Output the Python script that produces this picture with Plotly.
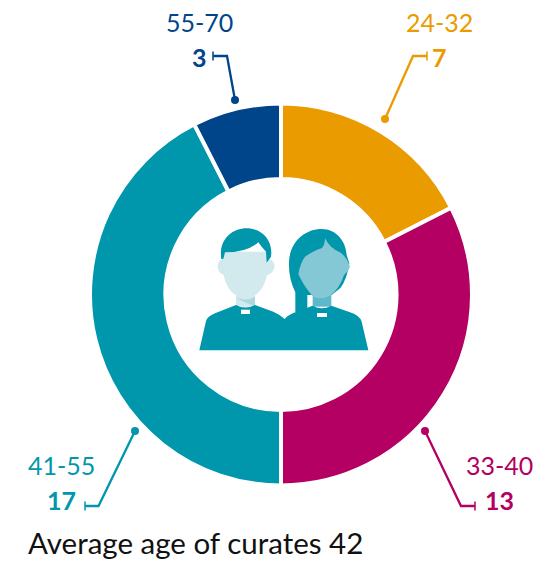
import plotly.graph_objects as go

# Data
age_bands = ["24-32", "33-40", "41-55", "55-70"]
curates = [7, 13, 17, 3]
colours = ["#EA9B00", "#B30062", "#0097AC", "#00448A"]
caption = "Average age of curates 42"

W, H = 556, 561
CX, CY, R = 281, 294.5, 191

# label layout (pixels on the canvas): band label, value label, leader polyline
label_layout = {
    "24-32": dict(band=(439.5, 21.5), val=(439, 57), leader=[(427, 56), (413, 56), (385, 119)]),
    "33-40": dict(band=(499.5, 464.5), val=(499.5, 500), leader=[(475, 506), (461, 506), (425, 431)]),
    "41-55": dict(band=(61.5, 464.5), val=(61.5, 500), leader=[(85, 506), (98.5, 506), (135, 431)]),
    "55-70": dict(band=(199.5, 21.5), val=(199, 57), leader=[(213, 56), (227, 56), (235, 100)]),
}

fig = go.Figure()
fig.add_trace(go.Pie(
    labels=age_bands, values=curates, sort=False, direction="clockwise", rotation=0,
    hole=0.605, textinfo="none", showlegend=False,
    marker=dict(colors=colours, line=dict(color="white", width=4)),
    domain=dict(x=[(CX - R) / W, (CX + R) / W], y=[1 - (CY + R) / H, 1 - (CY - R) / H]),
))

shapes, annotations = [], []
FONT = "Lato, Carlito, Calibri, sans-serif"
for band, n, col in zip(age_bands, curates, colours):
    lay = label_layout[band]
    annotations.append(dict(x=lay["band"][0], y=lay["band"][1], xref="x", yref="y", text=band,
                            showarrow=False, font=dict(family=FONT, size=25, color=col)))
    annotations.append(dict(x=lay["val"][0], y=lay["val"][1], xref="x", yref="y", text=f"<b>{n}</b>",
                            showarrow=False, font=dict(family=FONT, size=25, color=col)))
    pts = lay["leader"]
    d = "M" + " L".join(f"{x},{y}" for x, y in pts)
    shapes.append(dict(type="path", path=d, xref="x", yref="y", line=dict(color=col, width=2.3)))
    x0, y0 = pts[0]
    shapes.append(dict(type="line", x0=x0, x1=x0, y0=y0 - 4.5, y1=y0 + 4.5, xref="x", yref="y",
                       line=dict(color=col, width=1.5)))
    xd, yd = pts[-1]
    shapes.append(dict(type="circle", x0=xd - 4, x1=xd + 4, y0=yd - 4, y1=yd + 4, xref="x", yref="y",
                       fillcolor=col, line=dict(width=0)))

annotations.append(dict(x=25.5, y=542.5, xref="x", yref="y", xanchor="left", text=caption, showarrow=False,
                        font=dict(family=FONT, size=29.5, color="#111111")))


# People icon, outlined on a 3x grid and placed over the hole
def icon(path, fill):
    out = []
    for tok in path.split():
        if tok[0].isalpha():
            out.append(tok[0])
            tok = tok[1:]
        if tok:
            a, b = tok.split(",")
            out.append(f"{190 + float(a) / 3:.2f},{215 + float(b) / 3:.2f}")
    shapes.append(dict(type="path", path=" ".join(out), xref="x", yref="y", fillcolor=fill, line=dict(width=0)))


TEAL, PALE, PALE2, MID, MID2 = "#0097AC", "#D2E9EE", "#ABD7E0", "#85C8D5", "#5DB8C9"
# man
icon("M138,225 L195,225 L195,275 L138,275 Z", PALE)
icon("M140,248 Q170,262 195,245 L195,272 Q180,270 140,250 Z", PALE2)
icon("M95,132 Q82,140 83,158 Q88,178 104,180 L232,180 Q250,175 254,155 Q252,135 235,132 Z", PALE)
icon("M102,110 L232,110 L232,170 Q225,225 190,243 Q167,254 142,243 Q105,222 100,170 Z", PALE)
icon("M94,132 C85,75 125,40 170,40 C215,40 250,75 243,125 L230,143 L228,110 Q215,97 205,82 Q170,112 105,112 L100,132 Z", TEAL)
# woman hair
icon("M316,292 L316,232 Q295,190 297,140 C300,80 345,42 395,42 C440,42 468,80 470,120 L478,145 Q472,190 452,218 L425,240 L352,240 L352,285 Z", TEAL)
icon("M368,235 L424,235 L424,275 L368,275 Z", MID2)
icon("M405,70 Q420,100 450,112 Q470,125 480,155 Q475,170 462,180 Q450,220 420,242 Q395,256 370,245 Q345,220 325,178 Q330,145 345,125 Q375,105 395,100 Q405,90 405,70 Z", MID)
# bodies
icon("M28,406 L48,318 Q52,305 75,295 L138,270 Q165,285 195,270 L250,290 Q272,300 284,312 Q295,298 320,290 L368,272 Q395,288 424,272 L480,292 Q510,302 515,320 L535,406 Z", TEAL)
icon("M153,284 L180,284 L180,297 L153,297 Z", "#FFFFFF")
icon("M381,294 L411,294 L411,306 L381,306 Z", "#FFFFFF")

fig.add_trace(go.Scatter(x=[], y=[], showlegend=False))
fig.update_layout(
    width=W, height=H, autosize=False, margin=dict(l=0, r=0, t=0, b=0),
    paper_bgcolor="white", plot_bgcolor="rgba(0,0,0,0)",
    xaxis=dict(range=[0, W], visible=False, domain=[0, 1], fixedrange=True),
    yaxis=dict(range=[H, 0], visible=False, domain=[0, 1], fixedrange=True),
    shapes=shapes, annotations=annotations, showlegend=False,
)
fig.write_html("out.html", config={"displayModeBar": False},
               post_script="document.body.style.margin='0';")
